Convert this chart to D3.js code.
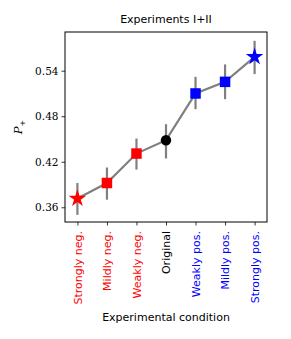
<!DOCTYPE html>
<html>
<head>
<meta charset="utf-8">
<script src="https://cdn.jsdelivr.net/npm/d3@7"></script>
<style>
  body { margin: 0; background: #fff; }
</style>
</head>
<body>
<div id="chart"></div>
<script>
// conditions and values
const conditions = ["Strongly neg.", "Mildly neg.", "Weakly neg.", "Original", "Weakly pos.", "Mildly pos.", "Strongly pos."];
const colors = ["red", "red", "red", "black", "blue", "blue", "blue"];
const markers = ["star", "square", "square", "circle", "square", "square", "star"];
const pPlus = [0.3715, 0.392, 0.4308, 0.4484, 0.510, 0.5253, 0.5583];
const errLow = [0.350, 0.370, 0.4097, 0.4243, 0.4893, 0.5025, 0.5355];
const errHigh = [0.392, 0.4124, 0.4506, 0.4695, 0.5319, 0.5483, 0.5794];
const yTicks = [0.36, 0.42, 0.48, 0.54];

const width = 291, height = 339;
const margin = { left: 65, right: 24, top: 32, bottom: 117 };

const svg = d3.select("#chart").append("svg")
    .attr("width", width)
    .attr("height", height);

const x = d3.scaleLinear()
    .domain([-0.42, conditions.length - 1 + 0.42])
    .range([margin.left, width - margin.right]);

const y = d3.scaleLinear()
    .domain([0.3406, 0.591])
    .range([height - margin.bottom, margin.top]);

const data = conditions.map((c, i) => ({
    c, i, v: pPlus[i], lo: errLow[i], hi: errHigh[i], color: colors[i], marker: markers[i]
}));

// y axis
const yAxis = svg.append("g")
    .attr("transform", `translate(${margin.left},0)`)
    .call(d3.axisLeft(y).tickValues(yTicks).tickFormat(d3.format(".2f")).tickSize(3.5).tickPadding(3));
yAxis.select(".domain").remove();
yAxis.selectAll("text")
    .attr("font-family", "'DejaVu Serif', 'Liberation Serif', serif")
    .attr("font-size", 10.5)
    .attr("fill", "#000");
yAxis.selectAll("line").attr("stroke", "#000").attr("stroke-width", 0.8);

// x axis
const xAxis = svg.append("g")
    .attr("transform", `translate(0,${height - margin.bottom})`)
    .call(d3.axisBottom(x).tickValues(d3.range(conditions.length)).tickFormat(i => conditions[i]).tickSize(3.5).tickPadding(3));
xAxis.select(".domain").remove();
xAxis.selectAll("line").attr("stroke", "#000").attr("stroke-width", 0.8);
xAxis.selectAll("text")
    .attr("font-family", "'DejaVu Sans', sans-serif")
    .attr("font-size", 11)
    .attr("fill", (d) => colors[d])
    .attr("transform", "rotate(-90)")
    .attr("text-anchor", "end")
    .attr("x", -9)
    .attr("y", 0)
    .attr("dy", "0.35em");

// line
svg.append("path")
    .datum(data)
    .attr("fill", "none")
    .attr("stroke", "#808080")
    .attr("stroke-width", 2.2)
    .attr("d", d3.line().x(d => x(d.i)).y(d => y(d.v)));

// error bars
svg.selectAll(".err")
    .data(data)
    .join("line")
    .attr("class", "err")
    .attr("x1", d => x(d.i))
    .attr("x2", d => x(d.i))
    .attr("y1", d => y(d.lo))
    .attr("y2", d => y(d.hi))
    .attr("stroke", "#808080")
    .attr("stroke-width", 2.2);

// markers
const symbolOf = { star: d3.symbolStar, square: d3.symbolSquare, circle: d3.symbolCircle };
const sizeOf = { star: 95, square: 110, circle: 85 };
svg.selectAll(".marker")
    .data(data)
    .join("path")
    .attr("class", "marker")
    .attr("transform", d => `translate(${x(d.i)},${y(d.v)})`)
    .attr("d", d => d3.symbol(symbolOf[d.marker], sizeOf[d.marker])())
    .attr("fill", d => d.color);

// frame
svg.append("rect")
    .attr("x", margin.left)
    .attr("y", margin.top)
    .attr("width", width - margin.left - margin.right)
    .attr("height", height - margin.top - margin.bottom)
    .attr("fill", "none")
    .attr("stroke", "#000")
    .attr("stroke-width", 1);

// title
svg.append("text")
    .attr("x", (margin.left + width - margin.right) / 2)
    .attr("y", 23)
    .attr("text-anchor", "middle")
    .attr("font-family", "'DejaVu Sans', sans-serif")
    .attr("font-size", 11)
    .text("Experiments I+II");

// axis labels
svg.append("text")
    .attr("x", (margin.left + width - margin.right) / 2)
    .attr("y", 321)
    .attr("text-anchor", "middle")
    .attr("font-family", "'DejaVu Sans', sans-serif")
    .attr("font-size", 11)
    .text("Experimental condition");

const yl = svg.append("text")
    .attr("transform", `translate(22,${(margin.top + height - margin.bottom) / 2}) rotate(-90)`)
    .attr("text-anchor", "middle")
    .attr("font-family", "'DejaVu Serif', serif")
    .attr("font-size", 11.5)
    .attr("font-style", "italic");
yl.append("tspan").text("P");
yl.append("tspan").attr("font-size", 8).attr("font-style", "normal").attr("dy", 3).text("+");
</script>
</body>
</html>
